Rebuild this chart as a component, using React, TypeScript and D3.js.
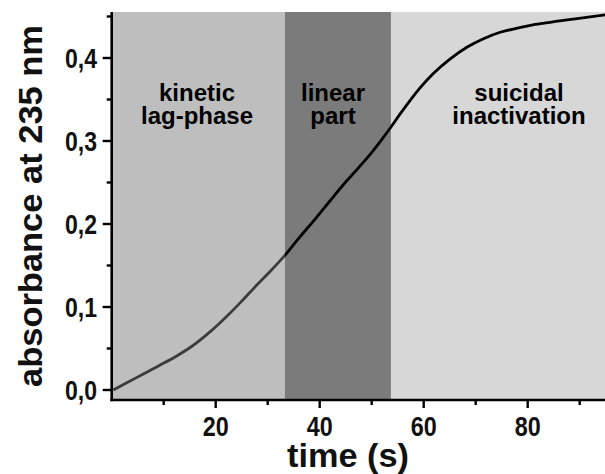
import React from "react";
import * as d3 from "d3";

const timeS = [0.3, 3, 6, 9, 12.5, 15.5, 18.9, 22, 24.7, 28, 30.5, 33, 36, 39.4, 42, 44.5, 47.5, 50.1, 51.6, 53.5, 55.4, 57.4, 59.3, 61.8, 65.1, 68.3, 71.4, 74.7, 78, 81, 84.3, 87.6, 91.3, 94.9];
const absorbance = [0.0, 0.009, 0.019, 0.029, 0.041, 0.053, 0.07, 0.088, 0.105, 0.127, 0.143, 0.16, 0.183, 0.208, 0.228, 0.247, 0.268, 0.287, 0.299, 0.315, 0.332, 0.349, 0.364, 0.381, 0.399, 0.413, 0.423, 0.431, 0.436, 0.44, 0.443, 0.446, 0.449, 0.452];
const phaseStarts = [0, 33.3, 53.7];
const phaseEnds = [33.3, 53.7, 95];
const phaseLabels = [["kinetic", "lag-phase"], ["linear", "part"], ["suicidal", "inactivation"]];
const phaseColors = ["#bebebe", "#7b7b7b", "#d7d7d7"];
const xMajorTicks = [20, 40, 60, 80];
const xMinorTicks = [10, 30, 50, 70, 90];
const yMajorTicks = [0, 0.1, 0.2, 0.3, 0.4];
const yMinorTicks = [0.05, 0.15, 0.25, 0.35, 0.45];

const W = 605;
const H = 474;
const left = 111.7;
const top = 12;
const bottom = 400;

export default function App() {
  const x = d3.scaleLinear().domain([0, 95]).range([left, left + 95 * 5.2]);
  const y = d3.scaleLinear().domain([0, 0.4]).range([390, 58]);
  const pts = timeS.map((t, i) => [t, absorbance[i]] as [number, number]);
  const split = 33.3;
  const ptsA = pts.filter((p) => p[0] <= split + 3);
  const ptsB = pts.filter((p) => p[0] >= split - 3);
  const line = d3
    .line<[number, number]>()
    .x((d) => x(d[0]))
    .y((d) => y(d[1]))
    .curve(d3.curveMonotoneX);
  const font = "'Liberation Sans', Arial, sans-serif";
  const fmt = (v: number) => v.toFixed(1).replace(".", ",");
  return (
    <svg width={W} height={H} style={{ position: "absolute", left: 0, top: 0, display: "block", background: "#fff" }}>
      <defs>
        <clipPath id="clipA">
          <rect x={left} y={top} width={x(split) - left} height={bottom - top} />
        </clipPath>
        <clipPath id="clipB">
          <rect x={x(split)} y={top} width={W - x(split)} height={bottom - top} />
        </clipPath>
      </defs>
      {phaseStarts.map((s, i) => (
        <rect key={i} x={x(s)} y={top} width={x(phaseEnds[i]) - x(s)} height={bottom - top} fill={phaseColors[i]} />
      ))}
      <path d={line(ptsA) || ""} fill="none" stroke="#3c3c3c" strokeWidth={2.8} clipPath="url(#clipA)" />
      <path d={line(ptsB) || ""} fill="none" stroke="#000" strokeWidth={2.8} clipPath="url(#clipB)" />
      {phaseLabels.map((lbl, i) => {
        const cx = [197, 333, 519][i];
        return (
          <g key={i} fontFamily={font} fontWeight="bold" fontSize={24} textAnchor="middle" fill="#000">
            <text x={cx} y={101}>{lbl[0]}</text>
            <text x={cx} y={124}>{lbl[1]}</text>
          </g>
        );
      })}
      <line x1={left} x2={left} y1={top} y2={bottom + 1.2} stroke="#000" strokeWidth={2.6} />
      <line x1={left - 1.3} x2={W} y1={bottom} y2={bottom} stroke="#000" strokeWidth={2.6} />
      {yMajorTicks.map((v) => (
        <g key={"ym" + v}>
          <line x1={left - 9} x2={left} y1={y(v)} y2={y(v)} stroke="#000" strokeWidth={2.4} />
          <text x={97} y={y(v) + 10} textAnchor="end" fontFamily={font} fontWeight="bold" fontSize={27} textLength={32} lengthAdjust="spacingAndGlyphs" fill="#111">
            {fmt(v)}
          </text>
        </g>
      ))}
      {yMinorTicks.map((v) => (
        <line key={"yn" + v} x1={left - 5} x2={left} y1={y(v)} y2={y(v)} stroke="#000" strokeWidth={2.4} />
      ))}
      {xMajorTicks.map((v) => (
        <g key={"xm" + v}>
          <line x1={x(v)} x2={x(v)} y1={bottom} y2={bottom + 8} stroke="#000" strokeWidth={2.4} />
          <text x={x(v)} y={436} textAnchor="middle" fontFamily={font} fontWeight="bold" fontSize={28} textLength={26} lengthAdjust="spacingAndGlyphs" fill="#111">
            {v}
          </text>
        </g>
      ))}
      {xMinorTicks.map((v) => (
        <line key={"xn" + v} x1={x(v)} x2={x(v)} y1={bottom} y2={bottom + 5} stroke="#000" strokeWidth={2.4} />
      ))}
      <text x={348} y={467} textAnchor="middle" fontFamily={font} fontWeight="bold" fontSize={33} textLength={122} lengthAdjust="spacingAndGlyphs" fill="#111">
        time (s)
      </text>
      <text transform="translate(42,206) rotate(-90)" textAnchor="middle" fontFamily={font} fontWeight="bold" fontSize={34} textLength={362} lengthAdjust="spacingAndGlyphs" fill="#111">
        absorbance at 235 nm
      </text>
    </svg>
  );
}
